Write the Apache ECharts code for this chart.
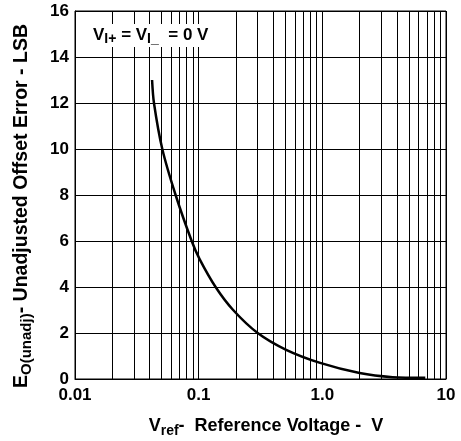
<!DOCTYPE html>
<html>
<head>
<meta charset="utf-8">
<script src="https://cdn.jsdelivr.net/npm/echarts@6/dist/echarts.min.js"></script>
<style>
  html, body { margin: 0; padding: 0; background: #fff; }
  #chart { width: 461px; height: 441px; }
</style>
</head>
<body>
<div id="chart"></div>
<script>
// reference voltage (V) and unadjusted offset error (LSB)
const vref = [0.042, 0.0435, 0.0508, 0.0651, 0.0878, 0.102, 0.137, 0.19, 0.30, 0.51, 0.96, 2.0, 3.7, 6.8];
const offsetErr = [13.0, 12.0, 10.0, 8.0, 6.0, 5.2, 4.0, 3.0, 2.0, 1.27, 0.7, 0.26, 0.08, 0.05];

// log grid lines between the decades
const minorGrid = [0.02, 0.03, 0.04, 0.05, 0.06, 0.07, 0.08, 0.09,
  0.2, 0.3, 0.4, 0.5, 0.6, 0.7, 0.8, 0.9,
  2, 3, 4, 5, 6, 7, 8, 9];

const xTickLabels = { 0.01: '0.01', 0.1: '0.1', 1: '1.0', 10: '10' };

const font = 'Liberation Sans';
const chart = echarts.init(document.getElementById('chart'));

const option = {
  backgroundColor: '#fff',
  animation: false,
  grid: {
    left: 75, right: 15, top: 11, bottom: 62,
    containLabel: false,
    outerBoundsMode: 'none',
    show: true, borderColor: '#000', borderWidth: 1, backgroundColor: 'transparent'
  },
  xAxis: {
    type: 'log',
    logBase: 10,
    min: 0.01,
    max: 10,
    axisLine: { lineStyle: { color: '#000', width: 1 } },
    axisTick: { show: false },
    splitLine: { show: true, lineStyle: { color: '#000', width: 1 } },
    axisLabel: {
      color: '#000', fontFamily: font, fontWeight: 'bold', fontSize: 17, margin: 8,
      formatter: v => xTickLabels[+v.toPrecision(3)] || ''
    }
  },
  yAxis: {
    type: 'value',
    min: 0,
    max: 16,
    interval: 2,
    axisLine: { show: true, lineStyle: { color: '#000', width: 1 } },
    axisTick: { show: false },
    splitLine: { show: true, lineStyle: { color: '#000', width: 1 } },
    axisLabel: { color: '#000', fontFamily: font, fontWeight: 'bold', fontSize: 17, margin: 6 }
  },
  graphic: [{
    type: 'text',
    left: 91,
    top: 24,
    z: 10,
    style: {
      text: '{m|V}{s|I+}{m| = V}{s|I_}{m|  = 0 V}',
      backgroundColor: '#fff',
      padding: [1, 2],
      rich: {
        m: { fontFamily: font, fontWeight: 'bold', fontSize: 17, fill: '#000', lineHeight: 21 },
        s: { fontFamily: font, fontWeight: 'bold', fontSize: 14, fill: '#000', lineHeight: 12, verticalAlign: 'bottom' }
      }
    }
  }, {
    type: 'text',
    x: 22,
    y: 206,
    rotation: Math.PI / 2,
    style: {
      text: '{m|E}{s|O(unadj)}{m|- Unadjusted Offset Error - LSB}',
      align: 'center',
      verticalAlign: 'middle',
      rich: {
        m: { fontFamily: font, fontWeight: 'bold', fontSize: 19.5, fill: '#000', lineHeight: 25 },
        s: { fontFamily: font, fontWeight: 'bold', fontSize: 15, fill: '#000', lineHeight: 14, verticalAlign: 'bottom' }
      }
    }
  }, {
    type: 'text',
    x: 266,
    y: 426,
    style: {
      text: '{m|V}{s|ref}{m|-  Reference Voltage -  V}',
      align: 'center',
      verticalAlign: 'middle',
      rich: {
        m: { fontFamily: font, fontWeight: 'bold', fontSize: 18, fill: '#000', lineHeight: 24 },
        s: { fontFamily: font, fontWeight: 'bold', fontSize: 14, fill: '#000', lineHeight: 13, verticalAlign: 'bottom' }
      }
    }
  }],
  series: [{
    type: 'line',
    data: vref.map((x, i) => [x, offsetErr[i]]),
    smooth: 0.3,
    showSymbol: false,
    lineStyle: { color: '#000', width: 2.5 },
    z: 5,
    markLine: {
      silent: true,
      symbol: 'none',
      label: { show: false },
      lineStyle: { color: '#000', width: 1, type: 'solid' },
      data: minorGrid.map(v => ({ xAxis: v }))
    }
  }]
};

chart.setOption(option);
</script>
</body>
</html>
